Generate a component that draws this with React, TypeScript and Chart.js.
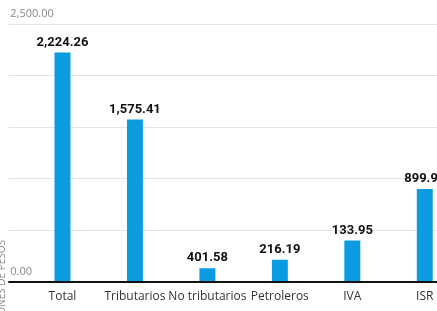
import React, { useEffect, useRef } from "react";
import { Chart, registerables } from "chart.js";

Chart.register(...registerables);

const categories = ["Total", "Tributarios", "No tributarios", "Petroleros", "IVA", "ISR"];
const barValues = [2224.26, 1575.41, 133.95, 216.19, 401.58, 899.96];
const valueLabels = ["2,224.26", "1,575.41", "401.58", "216.19", "133.95", "899.96"];
const yTickLabels: Record<number, string> = { 0: "0.00", 2500: "2,500.00" };
const yAxisTitle = "MILLONES DE PESOS";
const yMin = 0;
const yMax = 2500;
const yStep = 500;

const BAR_COLOR = "#0b9be0";

const valueLabelPlugin = {
  id: "valueLabels",
  afterDatasetsDraw(chart: any) {
    const ctx = chart.ctx;
    const meta = chart.getDatasetMeta(0);
    ctx.save();
    ctx.font = "bold 13px Roboto";
    ctx.fillStyle = "#111";
    ctx.textAlign = "center";
    ctx.textBaseline = "middle";
    meta.data.forEach((el: any, i: number) => {
      ctx.fillText(valueLabels[i], el.x, el.y - 10);
    });
    ctx.restore();
  },
};

const axisTitlePlugin = {
  id: "axisTitle",
  afterDraw(chart: any) {
    const ctx = chart.ctx;
    ctx.save();
    ctx.translate(2, 240);
    ctx.rotate(-Math.PI / 2);
    ctx.font = "10px 'Open Sans'";
    ctx.fillStyle = "#8a8a8a";
    ctx.textAlign = "right";
    ctx.textBaseline = "middle";
    ctx.fillText(yAxisTitle, 0, 0);
    ctx.restore();
  },
};

export default function App() {
  const ref = useRef<HTMLCanvasElement>(null);
  useEffect(() => {
    if (!ref.current) return;
    const chart = new Chart(ref.current, {
      type: "bar",
      data: {
        labels: categories,
        datasets: [
          {
            data: barValues,
            backgroundColor: BAR_COLOR,
            barPercentage: 0.22,
            categoryPercentage: 1,
          },
        ],
      },
      options: {
        responsive: false,
        animation: false,
        layout: { padding: { left: 8, right: 9, top: 24, bottom: 0.6 } },
        plugins: { legend: { display: false }, tooltip: { enabled: false } },
        scales: {
          x: {
            offset: true,
            grid: { display: false, drawTicks: false },
            border: { display: false },
            ticks: {
              padding: 7,
              color: "#333",
              font: { family: "'Open Sans'", size: 12 },
              maxRotation: 0,
              autoSkip: false,
            },
          },
          y: {
            min: yMin,
            max: yMax,
            afterFit: (scale: any) => {
              scale.width = 18.25;
            },
            grid: {
              tickLength: 18,
              color: (c: any) => (c.tick && c.tick.value === 0 ? "#111" : "#e4e4e4"),
              lineWidth: (c: any) => (c.tick && c.tick.value === 0 ? 2 : 1),
            },
            border: { display: false },
            ticks: {
              stepSize: yStep,
              mirror: true,
              padding: -16,
              labelOffset: -10,
              color: "#888",
              font: { family: "'Open Sans'", size: 11 },
              callback: (v: any) => (yTickLabels[v] !== undefined ? yTickLabels[v] : ""),
            },
          },
        },
      },
      plugins: [valueLabelPlugin, axisTitlePlugin],
    });
    return () => chart.destroy();
  }, []);
  return (
    <div style={{ position: "fixed", left: 0, top: 0, width: 437, height: 311, overflow: "hidden", background: "#fff" }}>
      <canvas ref={ref} width={470} height={311} style={{ display: "block" }} />
    </div>
  );
}
